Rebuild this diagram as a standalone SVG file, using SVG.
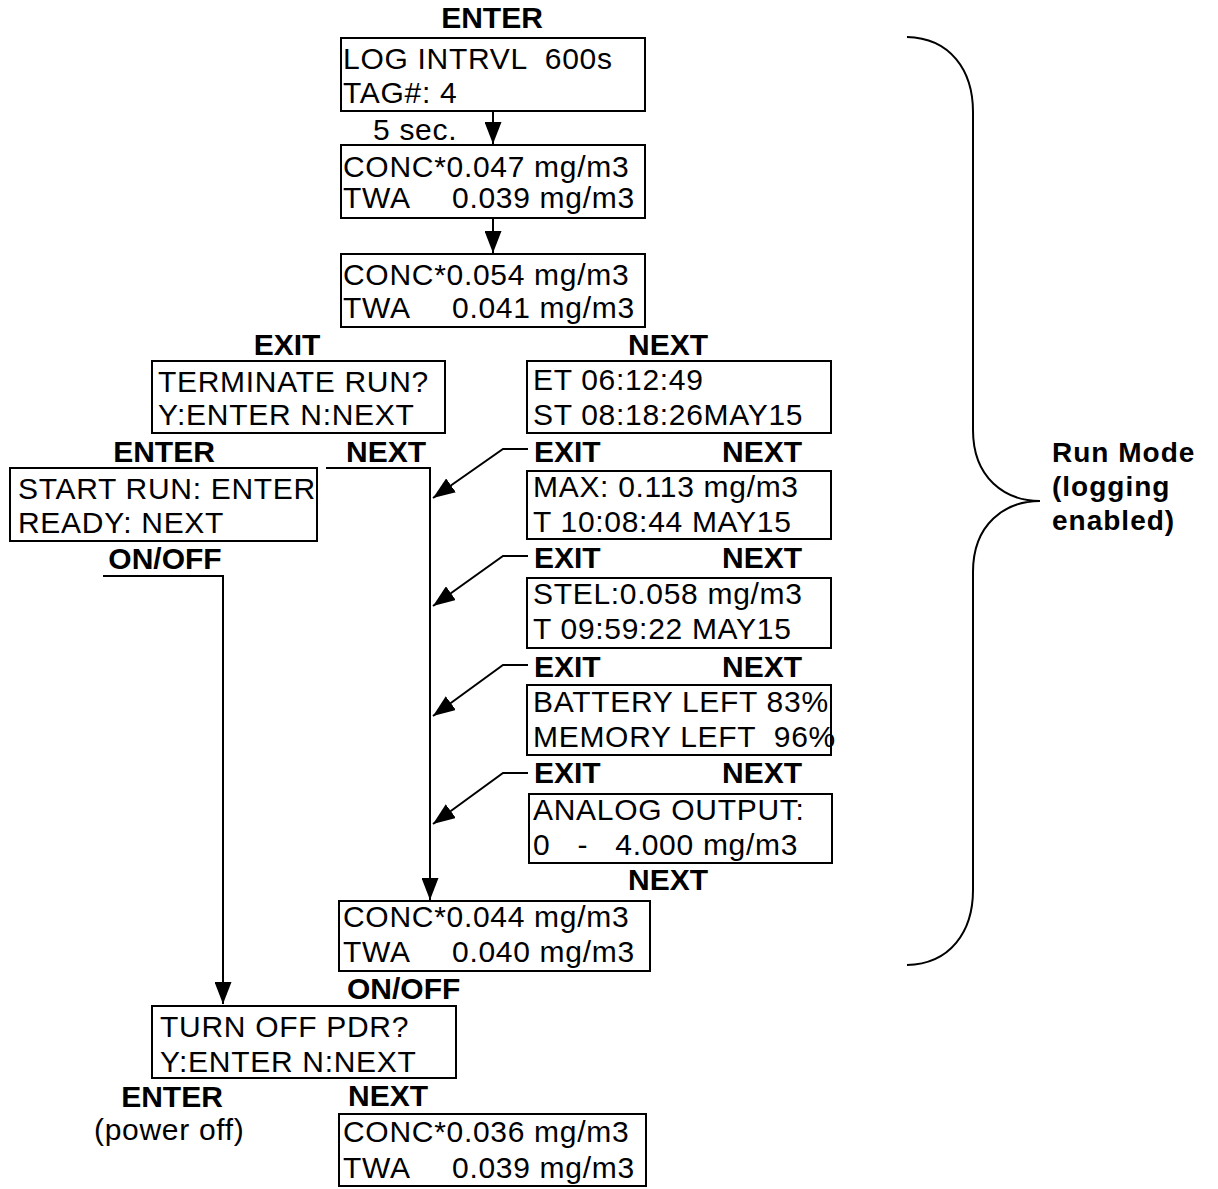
<svg xmlns="http://www.w3.org/2000/svg" width="1218" height="1189" viewBox="0 0 1218 1189">
<style>
  .box { fill: #fff; stroke: #000; stroke-width: 2; }
  .t { font-family: "Liberation Sans", Arial, sans-serif; font-size: 30px; letter-spacing: 0.7px; fill: #000; white-space: pre; }
  .b { font-family: "Liberation Sans", Arial, sans-serif; font-size: 30px; font-weight: bold; fill: #000; }
  .c { text-anchor: middle; }
  .ln { fill: none; stroke: #000; stroke-width: 2; }
  .brace { fill: none; stroke: #000; stroke-width: 2; }
  .rm { font-family: "Liberation Sans", Arial, sans-serif; font-size: 28px; font-weight: bold; letter-spacing: 1px; fill: #000; }
</style>
<defs>
  <marker id="ah" markerUnits="userSpaceOnUse" markerWidth="22" markerHeight="17" viewBox="0 0 22 17" refX="22" refY="8.5" orient="auto">
    <path d="M0,0 L22,8.5 L0,17 z" fill="#000"/>
  </marker>
</defs>
<rect width="1218" height="1189" fill="#fff"/>

<g id="connectors">
  <line class="ln" x1="493" y1="111" x2="493" y2="144" marker-end="url(#ah)"/>
  <line class="ln" x1="493" y1="218" x2="493" y2="253" marker-end="url(#ah)"/>
  <polyline class="ln" points="326,468 430,468 430,900" marker-end="url(#ah)"/>
  <polyline class="ln" points="103,576 223,576 223,1004" marker-end="url(#ah)"/>
  <polyline class="ln" points="528,449 503,449 433,498" marker-end="url(#ah)"/>
  <polyline class="ln" points="528,556 503,556 433,606" marker-end="url(#ah)"/>
  <polyline class="ln" points="528,665 503,665 433,716" marker-end="url(#ah)"/>
  <polyline class="ln" points="528,773 503,773 433,824" marker-end="url(#ah)"/>
</g>

<g id="labels">
  <text class="b c" x="492" y="28">ENTER</text>
  <text class="t" x="373" y="140">5 sec.</text>
  <text class="b c" x="287" y="355">EXIT</text>
  <text class="b c" x="668" y="355">NEXT</text>
  <text class="b c" x="164" y="462">ENTER</text>
  <text class="b c" x="386" y="462">NEXT</text>
  <text class="b" x="534" y="462">EXIT</text>
  <text class="b" x="722" y="462">NEXT</text>
  <text class="b c" x="165" y="569">ON/OFF</text>
  <text class="b" x="534" y="568">EXIT</text>
  <text class="b" x="722" y="568">NEXT</text>
  <text class="b" x="534" y="677">EXIT</text>
  <text class="b" x="722" y="677">NEXT</text>
  <text class="b" x="534" y="783">EXIT</text>
  <text class="b" x="722" y="783">NEXT</text>
  <text class="b c" x="668" y="890">NEXT</text>
  <text class="b" x="347" y="999">ON/OFF</text>
  <text class="b c" x="172" y="1107">ENTER</text>
  <text class="b" x="348" y="1106">NEXT</text>
  <text class="t" x="94" y="1140">(power off)</text>
</g>

<g id="n-log">
  <rect class="box" x="341" y="38" width="304" height="73"/>
  <text class="t" x="343" y="69">LOG INTRVL  600s</text>
  <text class="t" x="343" y="103">TAG#: 4</text>
</g>
<g id="n-conc1">
  <rect class="box" x="341" y="145" width="304" height="73"/>
  <text class="t" x="343" y="177">CONC*0.047 mg/m3</text>
  <text class="t" x="343" y="208">TWA    <tspan x="452">0.039 mg/m3</tspan></text>
</g>
<g id="n-conc2">
  <rect class="box" x="341" y="254" width="304" height="73"/>
  <text class="t" x="343" y="285">CONC*0.054 mg/m3</text>
  <text class="t" x="343" y="318">TWA    <tspan x="452">0.041 mg/m3</tspan></text>
</g>
<g id="n-terminate">
  <rect class="box" x="152" y="361" width="293" height="72"/>
  <text class="t" x="158" y="392">TERMINATE RUN?</text>
  <text class="t" x="158" y="425">Y:ENTER N:NEXT</text>
</g>
<g id="n-et">
  <rect class="box" x="527" y="361" width="304" height="72"/>
  <text class="t" x="533" y="390">ET 06:12:49</text>
  <text class="t" x="533" y="425">ST 08:18:26MAY15</text>
</g>
<g id="n-start">
  <rect class="box" x="10" y="468" width="307" height="73"/>
  <text class="t" x="18" y="499">START RUN: ENTER</text>
  <text class="t" x="18" y="533">READY: NEXT</text>
</g>
<g id="n-max">
  <rect class="box" x="527" y="471" width="304" height="68"/>
  <text class="t" x="533" y="497">MAX: 0.113 mg/m3</text>
  <text class="t" x="533" y="532">T 10:08:44 MAY15</text>
</g>
<g id="n-stel">
  <rect class="box" x="527" y="578" width="304" height="70"/>
  <text class="t" x="533" y="604">STEL:0.058 mg/m3</text>
  <text class="t" x="533" y="639">T 09:59:22 MAY15</text>
</g>
<g id="n-battery">
  <rect class="box" x="527" y="685" width="304" height="70"/>
  <text class="t" x="533" y="712">BATTERY LEFT 83%</text>
  <text class="t" x="533" y="747">MEMORY LEFT  96%</text>
</g>
<g id="n-analog">
  <rect class="box" x="529" y="794" width="303" height="69"/>
  <text class="t" x="533" y="820">ANALOG OUTPUT:</text>
  <text class="t" x="533" y="855">0   -   4.000 mg/m3</text>
</g>
<g id="n-conc3">
  <rect class="box" x="339" y="901" width="311" height="70"/>
  <text class="t" x="343" y="927">CONC*0.044 mg/m3</text>
  <text class="t" x="343" y="962">TWA    <tspan x="452">0.040 mg/m3</tspan></text>
</g>
<g id="n-turnoff">
  <rect class="box" x="152" y="1006" width="304" height="72"/>
  <text class="t" x="160" y="1037">TURN OFF PDR?</text>
  <text class="t" x="160" y="1072">Y:ENTER N:NEXT</text>
</g>
<g id="n-conc4">
  <rect class="box" x="339" y="1114" width="307" height="72"/>
  <text class="t" x="343" y="1142">CONC*0.036 mg/m3</text>
  <text class="t" x="343" y="1178">TWA    <tspan x="452">0.039 mg/m3</tspan></text>
</g>

<g id="n-runmode">
  <path class="brace" d="M907,37 C950,38 973,70 973,112 L973,430 C973,478 1005,501 1040,501 C1005,501 973,524 973,572 L973,890 C973,932 950,964 907,965"/>
  <text class="rm" x="1052" y="462">Run Mode</text>
  <text class="rm" x="1052" y="496">(logging</text>
  <text class="rm" x="1052" y="530">enabled)</text>
</g>
</svg>
